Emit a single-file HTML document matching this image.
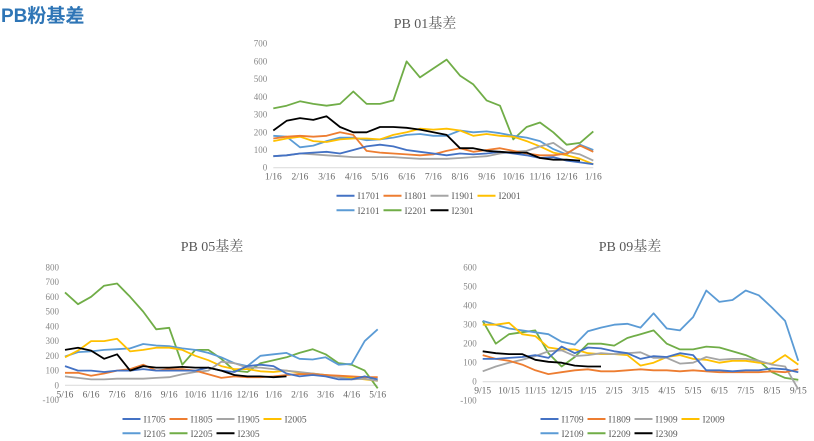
<!DOCTYPE html>
<html><head><meta charset="utf-8">
<style>
body{margin:0;background:#fff;width:814px;height:441px;overflow:hidden;position:relative}
#hdr{position:absolute;left:1px;top:1px;font:bold 19px "Liberation Sans","Noto Sans CJK SC",sans-serif;color:#2E75B6}
svg{position:absolute;left:0;top:0}
text{font-family:"Liberation Serif","Noto Serif CJK SC",serif}
</style></head><body>
<div id="hdr">PB粉基差</div>
<svg id="s" width="814" height="441"></svg>
<script>
const colors=["#4472C4","#ED7D31","#A5A5A5","#FFC000","#5B9BD5","#70AD47","#000000"];
// Chart 1: PB 01
const c1Names=["I1701","I1801","I1901","I2001","I2101","I2201","I2301"];
const c1Ticks=["1/16","2/16","3/16","4/16","5/16","6/16","7/16","8/16","9/16","10/16","11/16","12/16","1/16"];
const c1YTicks=[0,100,200,300,400,500,600,700];
const c1_I1701=[65,70,80,85,90,80,100,120,130,120,100,90,80,70,80,75,80,90,80,70,55,60,40,30,20];
const c1_I1801=[165,175,180,175,180,200,185,95,85,80,75,70,75,95,110,90,100,110,95,80,70,70,80,125,90];
const c1_I1901=[65,70,80,75,70,65,60,60,60,60,55,50,50,50,55,60,65,80,90,95,120,140,90,75,40];
const c1_I2001=[150,165,175,150,145,160,165,165,160,185,200,220,215,220,210,180,190,180,175,150,120,85,70,50,20];
const c1_I2101=[180,175,115,125,150,170,170,155,160,170,185,190,180,180,210,200,205,195,180,170,150,105,75,130,100];
const c1_I2201=[335,350,375,360,350,360,430,360,360,380,600,510,560,610,520,470,380,350,160,230,255,200,130,140,205];
const c1_I2301=[210,265,280,270,290,230,200,200,230,230,225,215,200,185,110,110,95,90,85,85,55,45,45,40];
// Chart 2: PB 05
const c2Names=["I1705","I1805","I1905","I2005","I2105","I2205","I2305"];
const c2Ticks=["5/16","6/16","7/16","8/16","9/16","10/16","11/16","12/16","1/16","2/16","3/16","4/16","5/16"];
const c2YTicks=[-100,0,100,200,300,400,500,600,700,800];
const c2_I1705=[130,100,100,90,100,100,110,100,100,100,100,120,100,90,130,140,130,80,60,70,60,40,40,60,40];
const c2_I1805=[85,85,65,80,100,110,140,100,110,110,100,75,50,60,55,55,60,70,75,75,70,65,60,55,55];
const c2_I1905=[60,50,40,40,45,45,45,50,55,75,90,100,160,150,120,120,110,100,90,80,70,55,40,45,30];
const c2_I2005=[190,235,300,300,315,230,240,255,255,240,200,170,130,110,110,95,90,100,85,80,70,60,50,40,30];
const c2_I2105=[195,225,230,240,245,250,280,270,265,250,240,220,190,150,130,200,210,220,180,175,190,140,145,300,380];
const c2_I2205=[630,550,600,675,690,600,500,380,390,140,240,240,180,100,90,150,170,190,220,245,210,150,140,100,-20];
const c2_I2305=[240,255,235,180,210,100,130,120,120,125,120,120,100,70,60,60,55,60];
// Chart 3: PB 09
const c3Names=["I1709","I1809","I1909","I2009","I2109","I2209","I2309"];
const c3Ticks=["9/15","10/15","11/15","12/15","1/15","2/15","3/15","4/15","5/15","6/15","7/15","8/15","9/15"];
const c3YTicks=[-100,0,100,200,300,400,500,600];
const c3_I1709=[120,120,125,130,140,125,185,150,180,175,160,150,120,135,130,150,140,60,60,55,60,60,70,65,50];
const c3_I1809=[140,120,110,90,60,40,50,60,65,55,55,60,65,60,60,55,60,55,50,50,50,50,55,50,65];
const c3_I1909=[55,80,100,115,135,160,165,135,140,150,145,150,155,125,125,95,100,130,115,120,120,110,90,80,-40];
const c3_I2009=[300,300,310,250,240,180,170,170,150,145,145,140,85,100,130,140,120,115,100,110,110,100,95,140,90];
const c3_I2109=[320,300,280,270,260,250,210,195,265,285,300,305,285,360,280,270,340,480,420,430,480,455,390,320,110];
const c3_I2209=[320,200,250,260,270,150,80,130,200,200,190,230,250,270,200,170,170,185,180,160,140,110,50,20,10];
const c3_I2309=[160,150,145,145,115,105,100,85,80,80];

const NS="http://www.w3.org/2000/svg";
const svg=document.getElementById('s');
function mk(tag,attrs,parent){const e=document.createElementNS(NS,tag);for(const k in attrs)e.setAttribute(k,attrs[k]);(parent||svg).appendChild(e);return e;}

function chart(cfg){
  const g=mk('g',{});
  
  
  const yMin=cfg.yTicks[0],yMax=cfg.yTicks[cfg.yTicks.length-1];
  const X=t=>cfg.x0+(cfg.x1-cfg.x0)*t/12;
  const Y=v=>cfg.y0+(cfg.yTop-cfg.y0)*(v-cfg.zeroVal)/(yMax-cfg.zeroVal);
  const tt=mk('text',{x:cfg.tx,y:cfg.ty,'text-anchor':'middle','font-size':14,fill:'#595959'},g);
  tt.textContent=cfg.title;
  
  
  cfg.yTicks.forEach(v=>{
    const t=mk('text',{x:cfg.x0-6,y:Y(v)+3,'text-anchor':'end','font-size':9,fill:'#888'},g);
    t.textContent=v;
    
    
  });
  cfg.xTicks.forEach((s,i)=>{
    const t=mk('text',{x:X(i),y:cfg.y0+(cfg.xLabY||12),'text-anchor':'middle','font-size':9.5,fill:'#666'},g);
    t.textContent=s;
    
    
  });
  const ax=mk('line',{x1:X(0),x2:X(12),y1:Y(0),y2:Y(0),stroke:'#d9d9d9','stroke-width':1},g);
  
  
  const order=[5,4,3,2,1,0,6];
  order.forEach(i=>{
    const d=cfg.series[i];
    const pts=d.map((v,k)=>X(k*0.5).toFixed(1)+','+Y(v).toFixed(1)).join(' ');
    const p=mk('polyline',{points:pts,fill:'none',stroke:colors[i],'stroke-width':1.8,'stroke-linejoin':'round'},g);
    
    
  });
  cfg.names.forEach((n,i)=>{
    const row=i<4?0:1,col=i<4?i:i-4;
    const lx=cfg.lx+col*cfg.lw, ly=row?cfg.ly2:cfg.ly1;
    const li=mk('g',{},g);
    
    
    mk('line',{x1:lx,x2:lx+18,y1:ly,y2:ly,stroke:colors[i],'stroke-width':2},li);
    const t=mk('text',{x:lx+21,y:ly+3.5,'font-size':9.5,fill:'#595959'},li);
    t.textContent=n;
  });
}
chart({id:'chart-pb-01',title:'PB 01基差',tx:425,ty:28,x0:273.3,x1:593.3,y0:167.7,yTop:43.7,zeroVal:0,
  yTicks:c1YTicks,xTicks:c1Ticks,names:c1Names,
  series:[c1_I1701,c1_I1801,c1_I1901,c1_I2001,c1_I2101,c1_I2201,c1_I2301],
  lx:336.5,lw:47,ly1:195.7,ly2:210.3});
chart({id:'chart-pb-05',title:'PB 05基差',tx:212,ty:251,x0:65,x1:377.7,y0:385.3,yTop:267.3,zeroVal:0,
  yTicks:c2YTicks,xTicks:c2Ticks,names:c2Names,
  series:[c2_I1705,c2_I1805,c2_I1905,c2_I2005,c2_I2105,c2_I2205,c2_I2305],
  lx:122.5,lw:47,ly1:419,ly2:433.3});
chart({id:'chart-pb-09',title:'PB 09基差',tx:630,ty:251,x0:482.7,x1:798.3,y0:381.7,yTop:267.7,zeroVal:0,
  yTicks:c3YTicks,xTicks:c3Ticks,names:c3Names,
  series:[c3_I1709,c3_I1809,c3_I1909,c3_I2009,c3_I2109,c3_I2209,c3_I2309],
  lx:540.5,lw:47,ly1:419,ly2:433.3});
</script>
</body></html>
